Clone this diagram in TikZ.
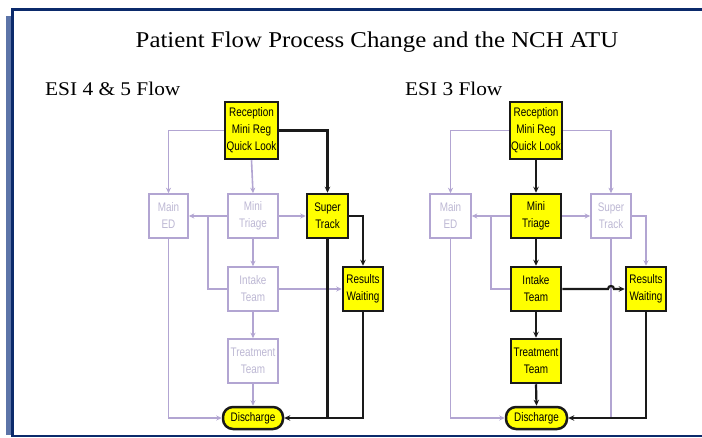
\documentclass[tikz,border=0pt]{standalone}
\usepackage{fontspec}
\setmainfont{Liberation Serif}
\newfontfamily\titlefont[FakeStretch=1.1]{Liberation Serif}
\newfontfamily\boxfont[FakeStretch=0.8]{Liberation Sans}
\usetikzlibrary{arrows.meta}
\definecolor{navy}{HTML}{0B2A6B}
\definecolor{lightbar}{HTML}{5C74A8}
\definecolor{lavline}{HTML}{B2A5D2}
\definecolor{lavtext}{HTML}{BDB8D4}
\definecolor{hotyellow}{HTML}{FFFF00}
\definecolor{blk}{HTML}{1A1A1A}
\begin{document}
\begin{tikzpicture}[x=1pt,y=-1pt,
  boxtext/.style={font=\boxfont\fontsize{12.4}{17}\selectfont, align=center, inner sep=0pt},
  hot/.style={boxtext, draw=blk, line width=2.5pt, fill=hotyellow, text=black},
  cold/.style={boxtext, draw=lavline, line width=1.6pt, fill=white, text=lavtext},
  bsize/.style 2 args={minimum width=#1pt, minimum height=#2pt},
  disch/.style={rounded corners=10pt},
  lav/.style={draw=lavline, line width=1.6pt},
  lavarr/.style={lav, -{Stealth[length=5.5pt,width=5pt]}},
  blkline/.style={draw=blk, line width=2.2pt},
  blkarr/.style={blkline, -{Stealth[length=6pt,width=5.5pt]}},
  heading/.style={anchor=base, inner sep=0pt, text=black}
]
\useasboundingbox (0,0) rectangle (702,437);
% frame
\fill[lightbar] (6,16) rectangle (11,435);
\fill[navy] (11,8) rectangle (13.5,437);
\fill[navy] (11,8) rectangle (702,10.5);
\fill[navy] (13,434.5) rectangle (702,437);

% titles
\node[heading, font=\titlefont\fontsize{22.6}{26}\selectfont] (title) at (377,47) {Patient Flow Process Change and the NCH ATU};
\node[heading, anchor=base west, font=\titlefont\fontsize{19.4}{22}\selectfont] (h1) at (45,95) {ESI 4 \& 5 Flow};
\node[heading, anchor=base west, font=\titlefont\fontsize{19.4}{22}\selectfont] (h2) at (405,95) {ESI 3 Flow};

% ---------- left diagram ----------
\node[hot, bsize={53}{57}] (rec1) at (251.5,130.5) {Reception\\Mini Reg\\Quick Look};
\node[cold, bsize={39}{44}] (med1) at (168.5,216) {Main\\ED};
\node[cold, bsize={50}{44}] (mt1) at (253,216) {Mini\\Triage};
\node[hot, bsize={41}{44}] (st1) at (327.5,216) {Super\\Track};
\node[hot, bsize={40}{44}] (rw1) at (363,289) {Results\\Waiting};
\node[cold, bsize={50}{44}] (it1) at (253,289) {Intake\\Team};
\node[cold, bsize={50}{44}] (tt1) at (253,361) {Treatment\\Team};
\node[hot, disch, bsize={60}{22}] (dc1) at (253,418) {Discharge};
\coordinate (j1) at (208,216);

\draw[lavarr] (rec1.west) -| (med1.north);
\draw[lavarr] (rec1.south) -- (mt1.north);
\draw[lavarr] (mt1.west) -- (med1.east);
\draw[lav] (it1.west) -| (j1);
\draw[lavarr] (mt1.east) -- (st1.west);
\draw[lavarr] (mt1.south) -- (it1.north);
\draw[lavarr] (it1.east) -- (rw1.west);
\draw[lavarr] (it1.south) -- (tt1.north);
\draw[lavarr] (tt1.south) -- (dc1.north);
\draw[lavarr] (med1.south) |- (dc1.west);
\draw[blkarr] (rec1.east) -| (st1.north);
\draw[blkarr] (st1.east) -| (rw1.north);
\draw[blkline] (st1.south) -- (st1.south |- dc1.east);
\draw[blkarr] (rw1.south) |- (dc1.east);

% ---------- right diagram ----------
\node[hot, bsize={52}{57}] (rec2) at (536,130.5) {Reception\\Mini Reg\\Quick Look};
\node[cold, bsize={41}{44}] (med2) at (450.5,216) {Main\\ED};
\node[hot, bsize={50}{44}] (mt2) at (536,216) {Mini\\Triage};
\node[cold, bsize={40}{44}] (st2) at (611,216) {Super\\Track};
\node[hot, bsize={40}{44}] (rw2) at (646,289) {Results\\Waiting};
\node[hot, bsize={50}{44}] (it2) at (536,289) {Intake\\Team};
\node[hot, bsize={50}{44}] (tt2) at (536,361) {Treatment\\Team};
\node[hot, disch, bsize={61}{22}] (dc2) at (536.5,418) {Discharge};
\coordinate (j2) at (491,216);

\draw[lavarr] (rec2.west) -| (med2.north);
\draw[lavarr] (rec2.east) -| (st2.north);
\draw[lavarr] (mt2.west) -- (med2.east);
\draw[lav] (it2.west) -| (j2);
\draw[lavarr] (mt2.east) -- (st2.west);
\draw[lavarr] (st2.east) -| (rw2.north);
\draw[lav] (st2.south) -- (st2.south |- dc2.east);
\draw[lavarr] (med2.south) |- (dc2.west);
\draw[blkarr] (rec2.south) -- (mt2.north);
\draw[blkarr] (mt2.south) -- (it2.north);
\draw[blkarr] (it2.east) -- ([xshift=-3pt]st2.south |- it2.east) .. controls +(0,-4) and +(0,-4) .. ([xshift=3pt]st2.south |- it2.east) -- (rw2.west);
\draw[blkarr] (it2.south) -- (tt2.north);
\draw[blkarr] (tt2.south) -- (dc2.north);
\draw[blkarr] (rw2.south) |- (dc2.east);
\end{tikzpicture}
\end{document}
